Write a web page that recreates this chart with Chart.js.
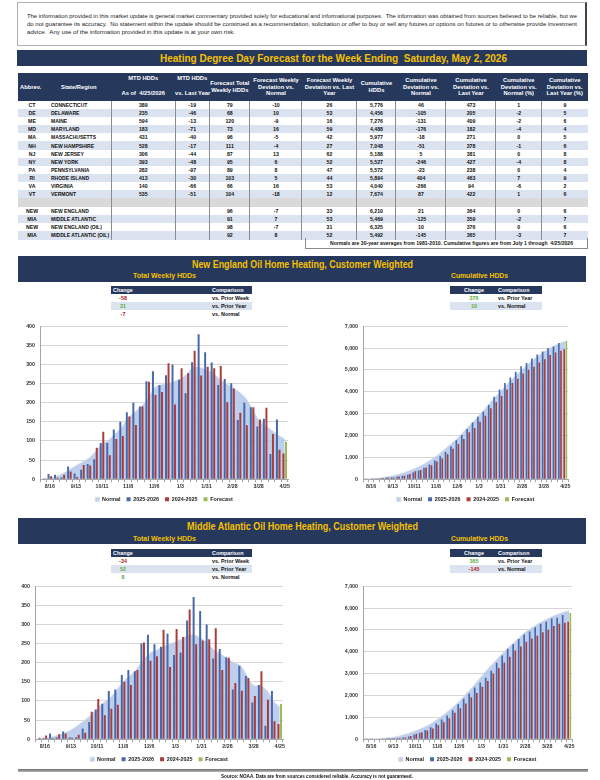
<!DOCTYPE html>
<html>
<head>
<meta charset="utf-8">
<script src="https://cdn.jsdelivr.net/npm/chart.js@4.4.1/dist/chart.umd.min.js"></script>
<style>
  body { margin: 0; width: 600px; height: 780px; position: relative; background: #fff; overflow: hidden;
         font-family: 'Liberation Sans', Arial, sans-serif; font-weight: bold; color: #111; }
  .abs { position: absolute; }
  .fit { position: absolute; white-space: nowrap; transform-origin: left center; display: inline-block; }
  #disclaimer { left: 17px; top: 2px; width: 567px; height: 42px; border: 1px solid #b0b0b0; border-right: 2px solid #444; }
  .navy { background: #26395d; }
  .gold { color: #f5c000; }
  #hdd { position: absolute; left: 18px; top: 73px; width: 570px; border-collapse: collapse; table-layout: fixed; font-size: 5.2px; }
  #hdd th { background: #26395d; color: #fff; height: 26px; padding: 0; font-size: 5.8px; line-height: 6.6px; vertical-align: middle; white-space: nowrap; }
  #hdd th.split { vertical-align: top; padding-top: 2px; }
  #hdd th.split span { display: block; margin-top: 8px; }
  #hdd tr.body { height: 8.1px; }
  #hdd td { line-height: 8px; padding: 0; text-align: center; border-left: 1px solid #8c8c8c; white-space: nowrap; overflow: hidden; }
  #hdd td.ab, #hdd td.st { border-left: none; }
  #hdd td.st { text-align: left; padding-left: 5px; font-size: 5px; }
  #hdd tr.alt td { background: #dce3f0; }
  #hdd tr.blank { height: 9px; }
  #hdd tr.blank td { background: #d9d9d9; }
  #notes { left: 305px; top: 238px; width: 281px; height: 10px; border: 1px solid #8c8c8c; border-top: none; }
  .small { position: absolute; font-size: 5.4px; }
  .small .row { position: relative; height: 8px; line-height: 8px; }
  .small .hd { background: #26395d; color: #fff; }
  .small .row.alt { background: #dce3f0; }
  .small span { position: absolute; white-space: nowrap; }
  .chartbox { position: absolute; }
  #rule { left: 18px; top: 769px; width: 570px; height: 3px; background: linear-gradient(#6e6e6e, #b5b5b5); }
</style>
</head>
<body>
<div id="disclaimer" class="abs"></div>
<span class="fit" data-w="550" style="left:27px;top:12px;font-size:6.2px;line-height:7px;font-weight:normal;color:#222">The information provided in this market update is general market commentary provided solely for educational and informational purposes.&nbsp; The information was obtained from sources believed to be reliable, but we</span>
<span class="fit" data-w="550" style="left:27px;top:20px;font-size:6.2px;line-height:7px;font-weight:normal;color:#222">do not guarantee its accuracy.&nbsp; No statement within the update should be construed as a recommendation, solicitation or offer to buy or sell any futures or options on futures or to otherwise provide investment</span>
<span class="fit" data-w="208" style="left:27px;top:28px;font-size:6.2px;line-height:7px;font-weight:normal;color:#222">advice.&nbsp; Any use of the information provided in this update is at your own risk.</span>

<div class="abs navy" style="left:17px;top:50px;width:570px;height:16px"></div>
<span class="fit gold" data-w="347" style="left:160px;top:51px;font-size:11px;line-height:14px">Heating Degree Day Forecast for the Week Ending&nbsp; Saturday, May 2, 2026</span>

<table id="hdd"></table>
<div id="notes" class="abs"></div>
<span class="fit" data-w="243" style="left:330px;top:239.5px;font-size:5.4px;line-height:7px">Normals are 30-year averages from 1981-2010. Cumulative figures are from July 1 through&nbsp; 4/25/2026</span>

<div class="abs navy" style="left:18px;top:256px;width:568px;height:26px"></div>
<span class="fit gold" data-w="221" style="left:192px;top:257.5px;font-size:10.5px;line-height:13px">New England Oil Home Heating, Customer Weighted</span>
<span class="fit gold" data-w="63" style="left:133px;top:271px;font-size:8px;line-height:10px">Total Weekly HDDs</span>
<span class="fit gold" data-w="57" style="left:451px;top:271px;font-size:8px;line-height:10px">Cumulative HDDs</span>
<div id="neWeekTbl" class="small" style="left:111px;top:286px;width:141px"></div>
<div id="neCumTbl" class="small" style="left:450px;top:286px;width:92px"></div>
<div class="chartbox" style="left:0;top:318px"><canvas id="neWeekly" width="300" height="194"></canvas></div>
<div class="chartbox" style="left:300px;top:318px"><canvas id="neCum" width="300" height="194"></canvas></div>

<div class="abs navy" style="left:18px;top:518px;width:568px;height:26px"></div>
<span class="fit gold" data-w="231" style="left:187px;top:520px;font-size:10.5px;line-height:13px">Middle Atlantic Oil Home Heating, Customer Weighted</span>
<span class="fit gold" data-w="63" style="left:133px;top:534px;font-size:8px;line-height:10px">Total Weekly HDDs</span>
<span class="fit gold" data-w="57" style="left:451px;top:534px;font-size:8px;line-height:10px">Cumulative HDDs</span>
<div id="maWeekTbl" class="small" style="left:111px;top:549px;width:141px"></div>
<div id="maCumTbl" class="small" style="left:450px;top:549px;width:92px"></div>
<div class="chartbox" style="left:0;top:578px"><canvas id="maWeekly" width="300" height="194"></canvas></div>
<div class="chartbox" style="left:300px;top:578px"><canvas id="maCum" width="300" height="194"></canvas></div>

<div id="rule" class="abs"></div>
<span class="fit" data-w="192" style="left:221px;top:772.5px;font-size:5.8px;line-height:7px">Source: NOAA. Data are from sources considered reliable. Accuracy is not guaranteed.</span>

<script>
// ------------------------------
// State / region table
// ------------------------------
const abbrevs = ['CT', 'DE', 'ME', 'MD', 'MA', 'NH', 'NJ', 'NY', 'PA', 'RI', 'VA', 'VT', '', 'NEW', 'MIA', 'NEW', 'MIA'];
const regions = ['CONNECTICUT', 'DELAWARE', 'MAINE', 'MARYLAND', 'MASSACHUSETTS', 'NEW HAMPSHIRE', 'NEW JERSEY', 'NEW YORK',
                 'PENNSYLVANIA', 'RHODE ISLAND', 'VIRGINIA', 'VERMONT', '', 'NEW ENGLAND', 'MIDDLE ATLANTIC',
                 'NEW ENGLAND (OIL)', 'MIDDLE ATLANTIC (OIL)'];
const mtdHdds      = ['389', '235', '594', '183', '431', '528', '306', '393', '282', '413', '140', '535', '', '', '', '', ''];
const mtdVsLast    = ['-19', '-46', '-13', '-71', '-40', '-17', '-44', '-48', '-97', '-30', '-66', '-51', '', '', '', '', ''];
const fcstWeekly   = ['79', '68', '120', '73', '96', '111', '87', '95', '89', '103', '66', '104', '', '96', '91', '98', '92'];
const fcstDevNorm  = ['-10', '10', '-9', '16', '-5', '-4', '13', '6', '8', '5', '16', '-18', '', '-7', '7', '-7', '8'];
const fcstDevLast  = ['26', '53', '16', '59', '42', '27', '62', '52', '47', '44', '53', '12', '', '33', '53', '31', '52'];
const cumHdds      = ['5,776', '4,456', '7,276', '4,488', '5,977', '7,048', '5,188', '5,527', '5,572', '5,894', '4,040', '7,674', '', '6,210', '5,469', '6,325', '5,492'];
const cumDevNorm   = ['46', '-105', '-131', '-176', '-18', '-51', '5', '-246', '-23', '404', '-266', '87', '', '21', '-125', '10', '-145'];
const cumDevLast   = ['473', '205', '409', '182', '271', '378', '381', '427', '238', '463', '94', '422', '', '364', '359', '376', '365'];
const cumDevNormPc = ['1', '-2', '-2', '-4', '0', '-1', '0', '-4', '0', '7', '-6', '1', '', '0', '-2', '0', '-3'];
const cumDevLastPc = ['9', '5', '6', '4', '5', '6', '8', '8', '4', '9', '2', '6', '', '6', '7', '6', '7'];
const tableHeads = ['Abbrev.', 'State/Region', 'MTD HDDs|As of&nbsp; 4/25/2026', 'MTD HDDs|vs. Last Year',
                    'Forecast Total<br>Weekly HDDs', 'Forecast Weekly<br>Deviation vs.<br>Normal',
                    'Forecast Weekly<br>Deviation vs. Last<br>Year', 'Cumulative<br>HDDs',
                    'Cumulative<br>Deviation vs.<br>Normal', 'Cumulative<br>Deviation vs.<br>Last Year',
                    'Cumulative<br>Deviation vs.<br>Normal (%)', 'Cumulative<br>Deviation vs.<br>Last Year (%)'];
const colWidths = [28, 65.5, 63.5, 34.6, 40.4, 52, 55, 39, 50, 50, 45.5, 46.5];

// ------------------------------
// Weekly / cumulative HDD series (8/9 .. 4/25)
// ------------------------------
const weeks = ['8/9', '8/16', '8/23', '8/30', '9/6', '9/13', '9/20', '9/27', '10/4', '10/11', '10/18', '10/25',
               '11/1', '11/8', '11/15', '11/22', '11/29', '12/6', '12/13', '12/20', '12/27', '1/3', '1/10', '1/17',
               '1/24', '1/31', '2/7', '2/14', '2/21', '2/28', '3/7', '3/14', '3/21', '3/28', '4/4', '4/11', '4/18', '4/25'];

const neWeekNormal = [2, 3, 8, 15, 25, 35, 45, 55, 72, 92, 102, 118, 135, 160, 175, 190, 210, 238, 246, 250, 255, 262, 275, 292,
                      292, 285, 278, 262, 250, 240, 228, 212, 185, 155, 140, 128, 115, 105];
const neWeekCur = [1, 14, 12, 5, 33, 15, 25, 40, 52, 95, 95, 130, 150, 175, 200, 190, 256, 282, 246, 272, 300, 260, 225, 306,
                   379, 332, 305, 246, 262, 251, 155, 200, 188, 138, 158, 66, 156, null];
const neWeekLast = [2, 8, 4, 12, 20, 6, 37, 36, 82, 124, 63, 105, 113, 164, 142, 190, 255, 220, 228, 303, 195, 290, 277, 336,
                    271, 294, 290, 296, 201, 237, 174, 141, 188, 156, 187, 118, 77, 67];
const neWeekFcst = [null, null, null, null, null, null, null, null, null, null, null, null, null, null, null, null, null, null, null,
                    null, null, null, null, null, null, null, null, null, null, null, null, null, null, null, null, null, null, 98];

const neCumNormal = [8, 15, 35, 65, 105, 155, 215, 290, 375, 475, 590, 720, 870, 1035, 1230, 1440, 1655, 1875, 2130, 2385,
                     2645, 2915, 3190, 3470, 3745, 4015, 4280, 4535, 4780, 5015, 5240, 5450, 5640, 5815, 5970, 6105, 6215, 6315];
const neCumCur = [3, 27, 39, 44, 77, 92, 117, 157, 209, 304, 399, 529, 679, 854, 1054, 1244, 1500, 1782, 2028, 2300, 2600,
                  2860, 3085, 3391, 3770, 4102, 4407, 4653, 4915, 5166, 5321, 5521, 5709, 5847, 6005, 6071, 6227, null];
const neCumLast = [35, 43, 47, 59, 79, 85, 122, 158, 240, 364, 427, 532, 645, 809, 951, 1141, 1396, 1616, 1844, 2147, 2342,
                   2632, 2909, 3245, 3516, 3810, 4100, 4396, 4597, 4834, 5008, 5149, 5337, 5493, 5680, 5798, 5875, 5949];
const neCumFcst = [null, null, null, null, null, null, null, null, null, null, null, null, null, null, null, null, null, null, null,
                   null, null, null, null, null, null, null, null, null, null, null, null, null, null, null, null, null, null, 6325];

const maWeekNormal = [2, 3, 6, 10, 16, 24, 35, 48, 62, 80, 95, 108, 128, 150, 165, 182, 205, 224, 232, 240, 248, 254, 262, 271,
                      272, 263, 250, 232, 222, 211, 200, 192, 165, 140, 140, 128, 100, 84];
const maWeekCur = [1, 3, 15, 5, 20, 5, 5, 28, 45, 78, 93, 126, 130, 168, 181, 178, 250, 273, 248, 242, 276, 220, 227, 310,
                   372, 335, 300, 211, 236, 214, 130, 192, 165, 96, 142, 35, 126, null];
const maWeekLast = [4, 10, 3, 13, 15, 4, 12, 17, 72, 105, 63, 80, 90, 150, 142, 181, 253, 205, 217, 286, 189, 288, 267, 339,
                    248, 258, 261, 290, 181, 213, 147, 127, 160, 113, 178, 103, 47, 40];
const maWeekFcst = [null, null, null, null, null, null, null, null, null, null, null, null, null, null, null, null, null, null, null,
                    null, null, null, null, null, null, null, null, null, null, null, null, null, null, null, null, null, null, 92];

const maCumNormal = [5, 10, 20, 38, 60, 90, 140, 205, 285, 375, 475, 590, 735, 900, 1085, 1285, 1500, 1730, 2000, 2275,
                     2560, 2860, 3145, 3425, 3695, 3950, 4200, 4440, 4670, 4890, 5060, 5220, 5370, 5500, 5620, 5720, 5805, 5880];
const maCumCur = [1, 4, 19, 24, 44, 49, 54, 82, 127, 205, 298, 424, 554, 722, 903, 1081, 1331, 1604, 1852, 2094, 2370,
                  2590, 2817, 3127, 3499, 3834, 4134, 4345, 4581, 4795, 4925, 5117, 5282, 5378, 5520, 5555, 5681, null];
const maCumLast = [4, 14, 17, 30, 45, 49, 61, 78, 150, 255, 318, 398, 488, 638, 780, 961, 1214, 1419, 1636, 1922, 2111,
                   2399, 2666, 3005, 3253, 3511, 3772, 4062, 4243, 4456, 4603, 4730, 4890, 5003, 5181, 5284, 5331, 5371];
const maCumFcst = [null, null, null, null, null, null, null, null, null, null, null, null, null, null, null, null, null, null, null,
                   null, null, null, null, null, null, null, null, null, null, null, null, null, null, null, null, null, null, 5773];

// change boxes above each chart
const weekComparisons = ['vs. Prior Week', 'vs. Prior Year', 'vs. Normal'];
const cumComparisons = ['vs. Prior Year', 'vs. Normal'];
const neWeekChange = [-58, 31, -7];
const neCumChange = [376, 10];
const maWeekChange = [-34, 52, 8];
const maCumChange = [365, -145];

const FONT = "'Liberation Sans', Arial, sans-serif";

// ------------------------------
// Build the big table
// ------------------------------
function buildTable() {
    const t = document.getElementById('hdd');
    let html = '<colgroup>' + colWidths.map(w => `<col style="width:${w}px">`).join('') + '</colgroup><tr>';
    tableHeads.forEach((h, i) => {
        if (h.includes('|')) {
            const [top, bottom] = h.split('|');
            html += `<th class="split">${top}<span>${bottom}</span></th>`;
        } else {
            html += `<th style="${i === 0 ? 'text-align:left;padding-left:2px' : ''}">${h}</th>`;
        }
    });
    html += '</tr>';
    const cols = [mtdHdds, mtdVsLast, fcstWeekly, fcstDevNorm, fcstDevLast, cumHdds, cumDevNorm, cumDevLast, cumDevNormPc, cumDevLastPc];
    let stripe = 0;
    abbrevs.forEach((ab, r) => {
        let cls;
        if (ab === '') { cls = 'blank'; stripe = 0; }
        else { cls = 'body' + (stripe % 2 ? ' alt' : ''); stripe++; }
        html += `<tr class="${cls}"><td class="ab">${ab}</td><td class="st">${regions[r]}</td>`;
        cols.forEach(c => { html += `<td>${c[r]}</td>`; });
        html += '</tr>';
    });
    t.innerHTML = html;
}

// ------------------------------
// Small change/comparison boxes
// ------------------------------
function changeColor(v) { return v < 0 ? '#b4141e' : '#5aab3c'; }

function smallTable(id, changes, comps, chgX, headX, headCentered, compX) {
    const el = document.getElementById(id);
    const head = headCentered ? `left:${headX - 20}px;width:40px;text-align:center` : `left:${headX}px`;
    let html = `<div class="row hd"><span style="${head}">Change</span><span style="left:${compX}px">Comparison</span></div>`;
    changes.forEach((v, i) => {
        html += `<div class="row ${i % 2 ? 'alt' : ''}"><span style="left:${chgX - 20}px;width:40px;text-align:center;color:${changeColor(v)}">${v}</span>` +
                `<span style="left:${compX}px">${comps[i]}</span></div>`;
    });
    el.innerHTML = html;
}

// squeeze single-line labels to the width they take in the picture
function fitAll() {
    document.querySelectorAll('.fit').forEach(el => {
        const w = el.getBoundingClientRect().width;
        el.style.transform = `scaleX(${Number(el.dataset.w) / w})`;
    });
}

// ------------------------------
// Chart.js combo chart: normal area + grouped bars
// ------------------------------
function drawChart(id, normal, cur, last, fcst, yMax, yStep, yWidth, padLeft, padRight) {
    const tickFont = { family: FONT, size: 5.3, weight: 'bold' };
    return new Chart(document.getElementById(id), {
        data: {
            labels: weeks,
            datasets: [
                {
                    type: 'line', label: 'Normal', data: normal, order: 2,
                    fill: 'origin', backgroundColor: 'rgba(178,198,235,0.85)', borderColor: '#d5dbe6',
                    borderWidth: 1, pointRadius: 0, tension: 0.35
                },
                { type: 'bar', label: '2025-2026', data: cur, order: 1, backgroundColor: '#4769a8' },
                { type: 'bar', label: '2024-2025', data: last, order: 1, backgroundColor: '#ab3c3a' },
                { type: 'bar', label: 'Forecast', data: fcst, order: 1, backgroundColor: '#9bbb59' }
            ]
        },
        options: {
            responsive: false,
            animation: false,
            datasets: { bar: { skipNull: true, categoryPercentage: 0.78, barPercentage: 0.78 } },
            layout: { padding: { left: padLeft, right: padRight, top: 4, bottom: 0 } },
            plugins: {
                tooltip: { enabled: false },
                legend: {
                    position: 'bottom',
                    fullSize: false, // centre the legend under the plot area, not the canvas
                    labels: {
                        boxWidth: 4, boxHeight: 4, padding: 6, color: '#222',
                        font: { family: FONT, size: 5.4, weight: 'bold' },
                        sort: (a, b) => a.datasetIndex - b.datasetIndex
                    }
                }
            },
            scales: {
                x: {
                    offset: true,
                    grid: { display: true, drawOnChartArea: false, tickLength: 3, color: '#a6a6a6' },
                    border: { color: '#a6a6a6' },
                    ticks: {
                        autoSkip: false, maxRotation: 0, padding: 1, color: '#333', font: tickFont,
                        callback: (v, i) => (i % 4 === 1 ? weeks[i] : '')
                    }
                },
                y: {
                    min: 0, max: yMax,
                    grid: { color: '#d6d6d6', drawTicks: false },
                    border: { color: '#a6a6a6' },
                    ticks: {
                        stepSize: yStep, padding: 5, color: '#333', font: tickFont,
                        callback: v => v.toLocaleString('en-US')
                    },
                    afterFit: s => { s.width = yWidth; }
                }
            }
        }
    });
}

buildTable();
smallTable('neWeekTbl', neWeekChange, weekComparisons, 12, 2, false, 101);
smallTable('neCumTbl', neCumChange, cumComparisons, 24, 24, true, 48);
smallTable('maWeekTbl', maWeekChange, weekComparisons, 12, 2, false, 101);
smallTable('maCumTbl', maCumChange, cumComparisons, 24, 24, true, 48);
fitAll();

drawChart('neWeekly', neWeekNormal, neWeekCur, neWeekLast, neWeekFcst, 400, 50, 38, 2, 12);
drawChart('neCum', neCumNormal, neCumCur, neCumLast, neCumFcst, 7000, 1000, 60, 3, 32);
drawChart('maWeekly', maWeekNormal, maWeekCur, maWeekLast, maWeekFcst, 400, 50, 33, 2, 17);
drawChart('maCum', maCumNormal, maCumCur, maCumLast, maCumFcst, 7000, 1000, 60, 3, 28);
</script>
</body>
</html>
